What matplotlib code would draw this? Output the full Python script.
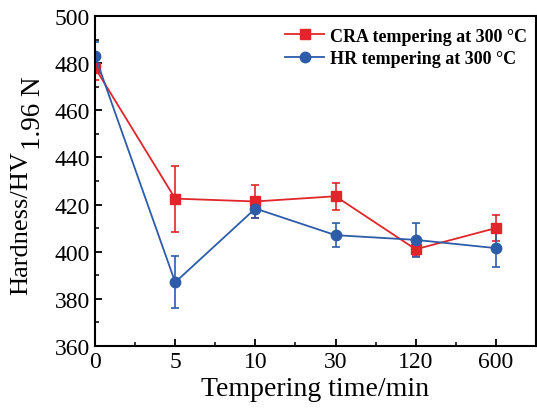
import numpy as np
import matplotlib.pyplot as plt
from matplotlib.ticker import MultipleLocator
from matplotlib.lines import Line2D

plt.rcParams['font.family'] = 'Liberation Serif'

# tempering times (categorical)
times = ['0', '5', '10', '30', '120', '600']

cra = [478, 422.5, 421.3, 423.5, 401, 410]
cra_err = [5, 14, 7, 5.7, 3, 5.5]

hr = [483, 387, 418.3, 407, 405, 401.5]
hr_err = [6, 11, 4, 5, 7.3, 8]

red = '#E0262A'
blue = '#2D5CA8'

fig = plt.figure(figsize=(5.37, 4.14), dpi=100)
ax = fig.add_axes([0.177, 0.162, 0.821, 0.797])

x = np.arange(len(times))
ax.errorbar(x, cra, yerr=cra_err, color=red, marker='s', ms=7, lw=1.3,
            capsize=3, elinewidth=1.2, capthick=1.2)
ax.errorbar(x, hr, yerr=hr_err, color=blue, marker='o', ms=7.5, lw=1.3,
            capsize=3, elinewidth=1.2, capthick=1.2)

ax.set_xlim(0, 5.5)
ax.set_ylim(360, 500)
ax.set_xticks(x)
ax.set_xticklabels(times)
ax.xaxis.set_minor_locator(MultipleLocator(0.5))
ax.yaxis.set_major_locator(MultipleLocator(20))
ax.yaxis.set_minor_locator(MultipleLocator(10))
ax.tick_params(which='both', direction='in', labelsize=17, top=False, right=False)
ax.tick_params(which='major', length=5, width=1.3)
ax.tick_params(which='minor', length=3, width=1.1)
for s in ax.spines.values():
    s.set_linewidth(1.5)

ax.set_xlabel('Tempering time/min', fontsize=20, labelpad=3)

# y label with a large subscript, built from two texts
W, H = 537, 414
main = fig.text(27 / W, 1 - 295 / H, 'Hardness/HV', fontsize=19, rotation=90,
                rotation_mode='anchor', ha='left', va='baseline')
fig.canvas.draw()
top = main.get_window_extent().y1
fig.text(40 / W, (top + 1) / H, '1.96 N', fontsize=19.5, rotation=90,
         rotation_mode='anchor', ha='left', va='baseline')

handles = [
    Line2D([], [], color=red, marker='s', ms=7, lw=1.3),
    Line2D([], [], color=blue, marker='o', ms=7.5, lw=1.3),
]
ax.legend(handles, ['CRA tempering at 300 °C', 'HR tempering at 300 °C'],
          loc='upper right', bbox_to_anchor=(1.0, 0.992), frameon=False,
          prop={'weight': 'bold', 'size': 13},
          handlelength=2.2, handletextpad=0.3, borderaxespad=0.1,
          labelspacing=0.3)

fig.savefig('out.png', dpi=100)
